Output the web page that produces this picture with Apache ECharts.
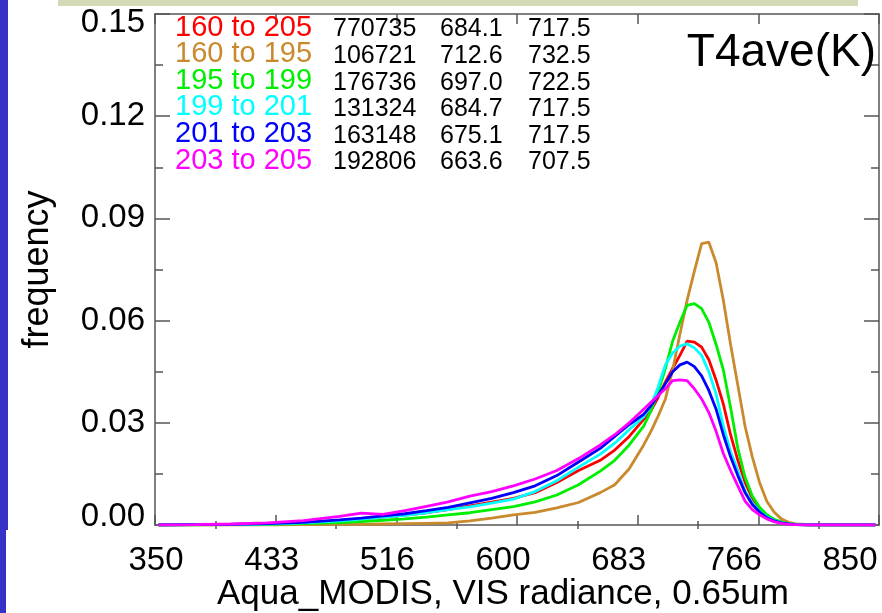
<!DOCTYPE html>
<html>
<head>
<meta charset="utf-8">
<script src="https://cdn.jsdelivr.net/npm/echarts@6/dist/echarts.min.js"></script>
<style>
  html, body { margin: 0; padding: 0; background: #ffffff; }
  #chart { width: 882px; height: 613px; }
</style>
</head>
<body>
<div id="chart"></div>
<script>
// Radiance bin centres (Aqua MODIS VIS 0.65um)
const radiance = [352.5, 377.5, 402.5, 427.5, 452.5, 477.5, 492.5, 507.5, 522.5, 537.5,
  552.5, 567.5, 582.5, 597.5, 612.5, 627.5, 642.5, 657.5, 667.5, 677.5,
  687.5, 692.5, 697.5, 702.5, 707.5, 712.5, 717.5, 722.5, 727.5, 732.5,
  737.5, 742.5, 747.5, 752.5, 757.5, 762.5, 767.5, 772.5, 777.5, 782.5,
  787.5, 792.5, 802.5, 822.5, 847.5];

// Frequency per T4ave group
const freq160to205 = [0, 0.0001, 0.0002, 0.0004, 0.0007, 0.0012, 0.0017, 0.0023, 0.0029, 0.0036,
  0.0045, 0.0056, 0.0067, 0.0078, 0.0095, 0.0125, 0.016, 0.019, 0.022, 0.026,
  0.031, 0.0335, 0.0375, 0.042, 0.046, 0.0498, 0.054, 0.0537, 0.0522, 0.0485,
  0.0425, 0.0355, 0.0265, 0.019, 0.0125, 0.0078, 0.0047, 0.0028, 0.0015, 0.0008,
  0.0004, 0.0001, 0, 0, 0];
const freq160to195 = [0, 0, 0, 0, 0.0001, 0.0002, 0.0002, 0.0003, 0.0004, 0.0005,
  0.0006, 0.0012, 0.002, 0.003, 0.0037, 0.005, 0.0066, 0.0095, 0.0118, 0.0165,
  0.0235, 0.0275, 0.032, 0.037, 0.0455, 0.056, 0.066, 0.0745, 0.0826, 0.083,
  0.077, 0.066, 0.053, 0.041, 0.029, 0.020, 0.0125, 0.007, 0.0038, 0.0018,
  0.0008, 0.0003, 0.0001, 0, 0];
const freq195to199 = [0, 0, 0.0001, 0.0002, 0.0004, 0.0007, 0.001, 0.0014, 0.0018, 0.0023,
  0.003, 0.0036, 0.0045, 0.0054, 0.0068, 0.0088, 0.0118, 0.0158, 0.019, 0.0235,
  0.029, 0.0335, 0.039, 0.046, 0.054, 0.0595, 0.0645, 0.065, 0.0635, 0.0595,
  0.053, 0.0455, 0.0345, 0.0225, 0.014, 0.0085, 0.0052, 0.003, 0.0017, 0.0009,
  0.0004, 0.0002, 0, 0, 0];
const freq199to201 = [0, 0.0001, 0.0002, 0.0003, 0.0006, 0.0012, 0.0017, 0.0023, 0.0028, 0.0036,
  0.0045, 0.0053, 0.0064, 0.0076, 0.0098, 0.013, 0.017, 0.0208, 0.024, 0.028,
  0.0318, 0.035, 0.0405, 0.047, 0.0505, 0.0525, 0.0532, 0.052, 0.0498, 0.045,
  0.0385, 0.029, 0.0215, 0.016, 0.010, 0.0065, 0.004, 0.0024, 0.0013, 0.0007,
  0.0003, 0.0001, 0, 0, 0];
const freq201to203 = [0, 0.0001, 0.0002, 0.0004, 0.0008, 0.0015, 0.002, 0.0027, 0.0033, 0.0042,
  0.0052, 0.0065, 0.0078, 0.0095, 0.0115, 0.0145, 0.0185, 0.0225, 0.026, 0.0295,
  0.0325, 0.035, 0.038, 0.0415, 0.045, 0.047, 0.0478, 0.0465, 0.0438, 0.0395,
  0.034, 0.0265, 0.020, 0.0145, 0.0095, 0.006, 0.0038, 0.0022, 0.0012, 0.0006,
  0.0003, 0.0001, 0, 0, 0];
const freq203to205 = [0, 0.0001, 0.0003, 0.0006, 0.0013, 0.0025, 0.0035, 0.0031, 0.0042, 0.0055,
  0.0068, 0.0085, 0.0098, 0.0115, 0.0135, 0.016, 0.0195, 0.0235, 0.0265, 0.030,
  0.034, 0.036, 0.038, 0.040, 0.0424, 0.0426, 0.0424, 0.040, 0.037, 0.033,
  0.0275, 0.021, 0.016, 0.0115, 0.007, 0.0045, 0.003, 0.0018, 0.001, 0.0005,
  0.0002, 0.0001, 0, 0, 0];

// Group annotations: range, sample count, mean, mode
const groupLabels = ['160 to 205', '160 to 195', '195 to 199', '199 to 201', '201 to 203', '203 to 205'];
const groupCounts = ['770735', '106721', '176736', '131324', '163148', '192806'];
const groupMeans = ['684.1', '712.6', '697.0', '684.7', '675.1', '663.6'];
const groupModes = ['717.5', '732.5', '722.5', '717.5', '717.5', '707.5'];
const groupFreqs = [freq160to205, freq160to195, freq195to199, freq199to201, freq201to203, freq203to205];

// Axis tick labels
const xTickLabels = ['350', '433', '516', '600', '683', '766', '850'];
const yTickLabels = ['0.00', '0.03', '0.06', '0.09', '0.12', '0.15'];
const panelTitle = 'T4ave(K)';

// Styling
const groupColors = ['#ff0000', '#c98a2e', '#00ee00', '#00ffff', '#0000ff', '#ff00ff'];
const FONT = '"Liberation Sans", Arial, Helvetica, sans-serif';
const AXIS_GRAY = '#808080';
const TICK_GRAY = '#555555';

const xMin = 350, xMax = 850;
const xStep = (xMax - xMin) / (xTickLabels.length - 1);
const xMajor = xTickLabels.map((_, i) => xMin + i * xStep);
const xMinor = xMajor.slice(0, -1).map(v => v + xStep / 2);
const yMax = 0.15, yStep = 0.03;

const chart = echarts.init(document.getElementById('chart'), null, { renderer: 'canvas' });

function xAxisDef(opts) {
  return Object.assign({
    type: 'value', min: xMin, max: xMax, gridIndex: 0,
    splitLine: { show: false },
    axisLine: { show: false },
    axisLabel: { show: false },
    axisTick: { show: false }
  }, opts);
}
const tickLine = { color: TICK_GRAY, width: 1.5 };
const frameLine = { color: AXIS_GRAY, width: 2 };

const xAxes = [
  // plot frame: bottom & top with major and minor ticks
  xAxisDef({
    position: 'bottom',
    axisLine: { show: true, onZero: false, lineStyle: frameLine },
    axisTick: { show: true, inside: true, length: 10, customValues: xMajor, lineStyle: tickLine }
  }),
  xAxisDef({
    position: 'top',
    axisLine: { show: true, onZero: false, lineStyle: frameLine },
    axisTick: { show: true, inside: true, length: 10, customValues: xMajor, lineStyle: tickLine }
  }),
  xAxisDef({
    position: 'bottom',
    axisTick: { show: true, inside: true, length: 4, customValues: xMinor, lineStyle: tickLine }
  }),
  xAxisDef({
    position: 'top',
    axisTick: { show: true, inside: true, length: 4, customValues: xMinor, lineStyle: tickLine }
  }),
  // label strip for the radiance axis (slightly narrower text layout)
  xAxisDef({
    gridIndex: 1,
    position: 'bottom',
    axisLabel: {
      show: true, customValues: xMajor, margin: 19,
      color: '#000', fontFamily: FONT, fontSize: 33,
      formatter: v => xTickLabels[Math.round((v - xMin) / xStep)]
    },
    name: 'Aqua_MODIS, VIS radiance, 0.65um',
    nameLocation: 'middle', nameGap: 52, nameMoveOverlap: false,
    nameTextStyle: { color: '#000', fontFamily: FONT, fontSize: 35 }
  })
];

function yAxisDef(opts) {
  return Object.assign({
    type: 'value', min: 0, max: yMax, interval: yStep, gridIndex: 0,
    splitLine: { show: false },
    axisLine: { show: true, onZero: false, lineStyle: frameLine },
    axisTick: { show: true, inside: true, length: 15, lineStyle: tickLine },
    minorTick: { show: true, splitNumber: 2, length: 8, lineStyle: tickLine },
    minorSplitLine: { show: false },
    axisLabel: { show: false }
  }, opts);
}

const yLabelFont = { color: '#000', fontFamily: FONT, fontSize: 33 };
const yAxes = [
  yAxisDef({
    position: 'left',
    axisLabel: {
      show: true, margin: 10, color: '#000', fontFamily: FONT, fontSize: 33,
      formatter: v => {
        const i = Math.round(v / yStep);
        if (i === yTickLabels.length - 1) return '{top|' + yTickLabels[i] + '}';
        if (i === 0) return '{bot|' + yTickLabels[i] + '}';
        return yTickLabels[i];
      },
      rich: {
        top: Object.assign({ padding: [17, 0, 0, 0] }, yLabelFont),
        bot: Object.assign({ padding: [0, 0, 17, 0] }, yLabelFont)
      }
    },
    name: 'frequency', nameLocation: 'middle', nameGap: 99, nameMoveOverlap: false,
    nameTextStyle: { color: '#000', fontFamily: FONT, fontSize: 36 }
  }),
  yAxisDef({ position: 'right' }),
  yAxisDef({ gridIndex: 1, show: false })
];

const series = groupFreqs.map((f, i) => ({
  name: groupLabels[i],
  type: 'line',
  xAxisIndex: 0, yAxisIndex: 0,
  showSymbol: false,
  symbol: 'none',
  smooth: false,
  lineStyle: { color: groupColors[i], width: 2.8 },
  itemStyle: { color: groupColors[i] },
  data: radiance.map((x, k) => [x, f[k]])
}));

// Annotation block: group ranges with count, mean and mode
const annot = [];
const rowBase = 42, rowStep = 26.6;
groupLabels.forEach((lab, i) => {
  const y = rowBase + i * rowStep;
  annot.push({ type: 'text', x: 175, y: y, style: { text: lab, fill: groupColors[i], font: '29px ' + FONT, verticalAlign: 'bottom' }, z: 10 });
  annot.push({ type: 'text', x: 333, y: y, style: { text: groupCounts[i], fill: '#000', font: '25px ' + FONT, verticalAlign: 'bottom' }, z: 10 });
  annot.push({ type: 'text', x: 440, y: y, style: { text: groupMeans[i], fill: '#000', font: '25px ' + FONT, verticalAlign: 'bottom' }, z: 10 });
  annot.push({ type: 'text', x: 528, y: y, style: { text: groupModes[i], fill: '#000', font: '25px ' + FONT, verticalAlign: 'bottom' }, z: 10 });
});

const option = {
  animation: false,
  backgroundColor: '#ffffff',
  grid: [
    { left: 155, right: 3, top: 14, bottom: 88, containLabel: false, outerBoundsMode: 'none' },
    { left: 156, right: 32, top: 14, bottom: 88, containLabel: false, outerBoundsMode: 'none' }
  ],
  xAxis: xAxes,
  yAxis: yAxes,
  series: series,
  graphic: [
    // slide frame decorations
    { type: 'rect', shape: { x: 0, y: 0, width: 8, height: 530 }, style: { fill: '#3632c8' }, z: 0 },
    { type: 'rect', shape: { x: 0, y: 530, width: 6, height: 83 }, style: { fill: '#3632c8' }, z: 0 },
    { type: 'rect', shape: { x: 58, y: 0, width: 800, height: 6 }, style: { fill: '#d5dab6' }, z: 0 },
    { type: 'text', right: 6, top: 30, style: { text: panelTitle, fill: '#000', font: '46px ' + FONT }, z: 10 }
  ].concat(annot)
};

chart.setOption(option);
</script>
</body>
</html>
